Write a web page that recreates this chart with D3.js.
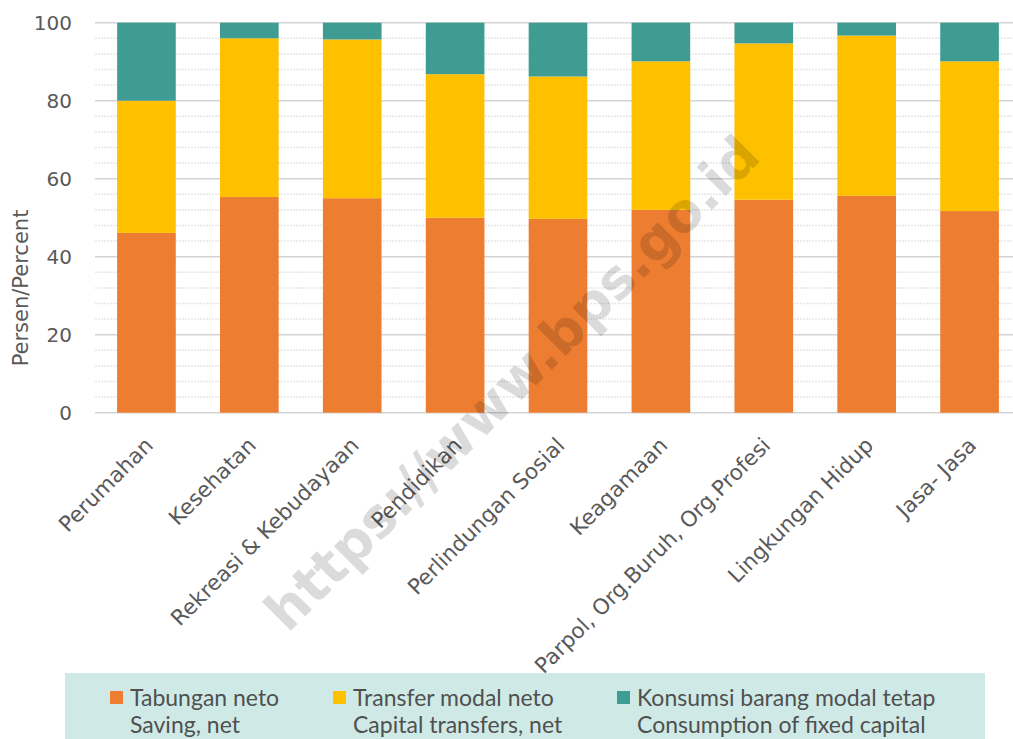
<!DOCTYPE html>
<html>
<head>
<meta charset="utf-8">
<script src="https://cdn.jsdelivr.net/npm/d3@7"></script>
<style>
  body { margin: 0; background: #fff; }
  svg { display: block; }
</style>
</head>
<body>
<div id="chart"></div>
<script>
const categories = ["Perumahan", "Kesehatan", "Rekreasi & Kebudayaan", "Pendidikan",
  "Perlindungan Sosial", "Keagamaan", "Parpol, Org.Buruh, Org.Profesi", "Lingkungan Hidup", "Jasa- Jasa"];
const savingNet = [46.1, 55.3, 55.0, 50.0, 49.7, 52.0, 54.6, 55.6, 51.7];
const capitalTransfers = [33.9, 40.7, 40.7, 36.8, 36.5, 38.1, 40.1, 41.1, 38.4];
const fixedCapital = [20.0, 4.0, 4.3, 13.2, 13.8, 9.9, 5.3, 3.3, 9.9];
const yTicks = [0, 20, 40, 60, 80, 100];
const seriesNames = [
  ["Tabungan neto", "Saving, net"],
  ["Transfer modal neto", "Capital transfers, net"],
  ["Konsumsi barang modal tetap", "Consumption of fixed capital"]
];

const width = 1013, height = 739;
const plot = {left: 95, right: 1021, top: 22.7, bottom: 412.7};
const colors = ["#ED7D31", "#FFC000", "#3F9C93"];
const font = "'DejaVu Sans', Verdana, sans-serif";
const legendFont = "Lato, 'Open Sans', sans-serif";

const rows = categories.map((c, i) => ({cat: c, s0: savingNet[i], s1: capitalTransfers[i], s2: fixedCapital[i]}));
const stack = d3.stack().keys(["s0", "s1", "s2"])(rows);

const x = d3.scaleBand().domain(categories).range([plot.left, plot.right]).paddingInner(0.43).paddingOuter(0.215);
const y = d3.scaleLinear().domain([0, 100]).range([plot.bottom, plot.top]);

const svg = d3.select("#chart").append("svg")
  .attr("width", width)
  .attr("height", height)
  .style("font-family", font);

// minor grid every 4
svg.append("g")
  .selectAll("line")
  .data(d3.range(4, 100, 4).filter(v => v % 20 != 0))
  .enter().append("line")
  .attr("x1", plot.left).attr("x2", width)
  .attr("y1", d => y(d)).attr("y2", d => y(d))
  .attr("stroke", "#e6e6e6")
  .attr("stroke-width", 1.5)
  .attr("stroke-dasharray", "2,1");

// major grid
svg.append("g")
  .selectAll("line")
  .data(yTicks)
  .enter().append("line")
  .attr("x1", plot.left).attr("x2", width)
  .attr("y1", d => y(d)).attr("y2", d => y(d))
  .attr("stroke", "#d4d4d4")
  .attr("stroke-width", 1.5);

// bars
svg.append("g")
  .selectAll("g")
  .data(stack)
  .enter().append("g")
  .attr("fill", (d, i) => colors[i])
  .selectAll("rect")
  .data(d => d)
  .enter().append("rect")
  .attr("x", d => x(d.data.cat))
  .attr("width", x.bandwidth())
  .attr("y", d => y(d[1]))
  .attr("height", d => y(d[0]) - y(d[1]));

// y axis labels
const yAxis = svg.append("g")
  .attr("transform", `translate(${plot.left - 12},0)`)
  .call(d3.axisLeft(y).tickValues(yTicks).tickSize(0).tickPadding(11));
yAxis.select(".domain").remove();
yAxis.selectAll("text")
  .style("font-family", font)
  .style("font-size", "20px")
  .attr("fill", "#595959");

svg.append("text")
  .attr("transform", `translate(28,288) rotate(-90)`)
  .attr("text-anchor", "middle")
  .attr("font-size", "21px")
  .attr("fill", "#595959")
  .text("Persen/Percent");

// category labels
svg.append("g")
  .selectAll("text")
  .data(categories)
  .enter().append("text")
  .attr("transform", d => `translate(${x(d) + x.bandwidth() / 2 + 8},${plot.bottom + 34}) rotate(-45)`)
  .attr("text-anchor", "end")
  .attr("font-size", "21.5px")
  .attr("fill", "#595959")
  .text(d => d);

// watermark
svg.append("text")
  .attr("transform", "translate(515,386) rotate(-45)")
  .attr("text-anchor", "middle")
  .attr("dominant-baseline", "middle")
  .attr("font-size", "54px")
  .attr("font-weight", "bold")
  .attr("fill", "#000")
  .attr("fill-opacity", 0.14)
  .text("https://www.bps.go.id");

// legend
const legend = svg.append("g").attr("class", "legend");
legend.append("rect")
  .attr("x", 65).attr("y", 673)
  .attr("width", 920).attr("height", 66)
  .attr("fill", "#CFEAE6");
const legX = [110, 333, 617];
seriesNames.forEach((names, i) => {
  legend.append("rect")
    .attr("x", legX[i]).attr("y", 691)
    .attr("width", 13).attr("height", 13)
    .attr("fill", colors[i]);
  names.forEach((t, j) => {
    legend.append("text")
      .attr("x", legX[i] + 20)
      .attr("y", 705.5 + j * 27.5)
      .attr("font-family", legendFont)
      .attr("font-size", "23px")
      .attr("fill", "#505050")
      .text(t);
  });
});
</script>
</body>
</html>
